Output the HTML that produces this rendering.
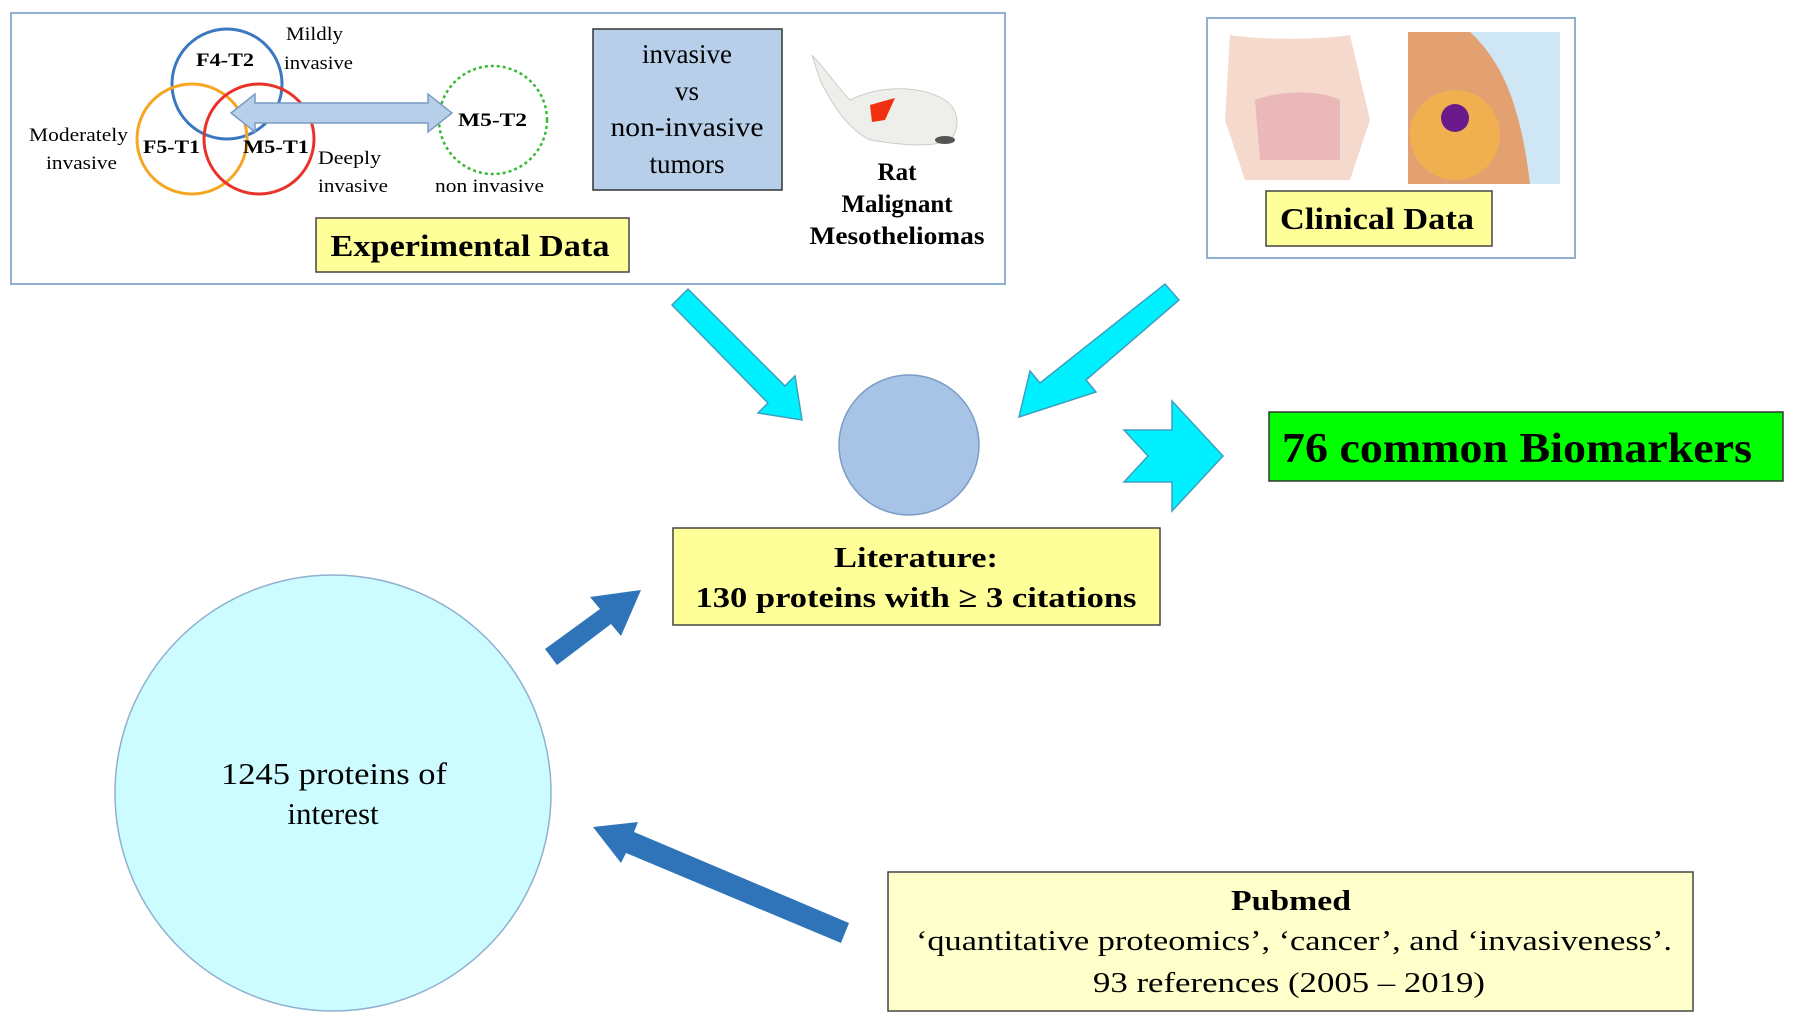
<!DOCTYPE html>
<html><head><meta charset="utf-8"><style>
html,body{margin:0;padding:0;background:#fff}
svg{display:block}
text{font-family:"Liberation Serif",serif}
</style></head><body>
<svg width="1795" height="1023" viewBox="0 0 1795 1023">
<rect x="11" y="13" width="994" height="271" fill="#fff" stroke="#8fb0d0" stroke-width="2"/>
<circle cx="227" cy="84" r="55" fill="none" stroke="#3a78c0" stroke-width="3"/>
<circle cx="192" cy="139" r="55" fill="none" stroke="#f5a623" stroke-width="3"/>
<circle cx="259" cy="139" r="55" fill="none" stroke="#e8322a" stroke-width="3"/>
<circle cx="493" cy="120" r="54" fill="none" stroke="#33bb33" stroke-width="2.5" stroke-dasharray="3,3"/>
<polygon points="231,113 255,94 255,103 428,103 428,94 452,113 428,132 428,123 255,123 255,132" fill="#b7cfe8" stroke="#7a9cc4" stroke-width="1.5"/>
<g font-size="19">
<text x="286" y="40" textLength="57" lengthAdjust="spacingAndGlyphs">Mildly</text>
<text x="284" y="69" textLength="69" lengthAdjust="spacingAndGlyphs">invasive</text>
<text x="29" y="141" textLength="99" lengthAdjust="spacingAndGlyphs">Moderately</text>
<text x="46" y="169" textLength="71" lengthAdjust="spacingAndGlyphs">invasive</text>
<text x="318" y="164" textLength="63" lengthAdjust="spacingAndGlyphs">Deeply</text>
<text x="318" y="192" textLength="70" lengthAdjust="spacingAndGlyphs">invasive</text>
<text x="435" y="192" textLength="109" lengthAdjust="spacingAndGlyphs">non invasive</text>
</g>
<g font-size="19" font-weight="bold">
<text x="196" y="66" textLength="58" lengthAdjust="spacingAndGlyphs">F4-T2</text>
<text x="143" y="153" textLength="57" lengthAdjust="spacingAndGlyphs">F5-T1</text>
<text x="243" y="153" textLength="66" lengthAdjust="spacingAndGlyphs">M5-T1</text>
<text x="458" y="126" textLength="69" lengthAdjust="spacingAndGlyphs">M5-T2</text>
</g>
<rect x="593" y="29" width="189" height="161" fill="#b7cfe8" stroke="#333" stroke-width="1.5"/>
<g font-size="27" text-anchor="middle">
<text x="687" y="63">invasive</text>
<text x="687" y="100">vs</text>
<text x="687" y="136" textLength="153" lengthAdjust="spacingAndGlyphs">non-invasive</text>
<text x="687" y="173">tumors</text>
</g>
<g>
<path d="M812,55 C830,75 840,90 850,100 C880,85 920,85 945,100 C960,110 960,130 950,140 C930,148 900,145 870,140 C850,130 835,110 820,80 Z" fill="#eeeeea" stroke="#ccc"/>
<path d="M870,105 L895,98 L885,120 L872,122 Z" fill="#f03010"/>
<ellipse cx="945" cy="140" rx="10" ry="4" fill="#555"/>
</g>
<g font-size="25" font-weight="bold" text-anchor="middle">
<text x="897" y="180">Rat</text>
<text x="897" y="212">Malignant</text>
<text x="897" y="244" textLength="175" lengthAdjust="spacingAndGlyphs">Mesotheliomas</text>
</g>
<rect x="316" y="218" width="313" height="54" fill="#ffff99" stroke="#444" stroke-width="1.5"/>
<text x="470" y="256" font-size="31" font-weight="bold" text-anchor="middle" textLength="279" lengthAdjust="spacingAndGlyphs">Experimental Data</text>
<rect x="1207" y="18" width="368" height="240" fill="#fff" stroke="#8fb0d0" stroke-width="2"/>
<path d="M1230,35 C1260,40 1320,40 1350,35 L1370,120 L1350,180 L1245,180 L1225,120 Z" fill="#f5d9cc"/>
<path d="M1255,100 C1280,90 1320,90 1340,100 L1340,160 L1260,160 Z" fill="#eab8b8"/>
<rect x="1408" y="32" width="152" height="152" fill="#cfe6f5"/>
<path d="M1408,32 L1470,32 C1500,60 1520,100 1530,184 L1408,184 Z" fill="#e3a070"/>
<ellipse cx="1455" cy="135" rx="45" ry="45" fill="#f0b050"/>
<circle cx="1455" cy="118" r="14" fill="#6a1a8a"/>
<rect x="1266" y="191" width="226" height="55" fill="#ffff99" stroke="#444" stroke-width="1.5"/>
<text x="1377" y="229" font-size="31" font-weight="bold" text-anchor="middle" textLength="194" lengthAdjust="spacingAndGlyphs">Clinical Data</text>
<g fill="#00f0ff" stroke="#3aa0c0" stroke-width="1.5">
<polygon points="672,305 688,289 785,386 795,376 802,420 758,413 768,403"/>
<polygon points="1165,284 1179,300 1086,380 1096,392 1019,417 1030,371 1040,383"/>
<polygon points="1124,430 1172,430 1172,401 1223,456 1172,511 1172,482 1124,482 1148,456"/>
</g>
<circle cx="909" cy="445" r="70" fill="#a7c3e6" stroke="#7a9cc4" stroke-width="1.5"/>
<rect x="1269" y="412" width="514" height="69" fill="#00ff00" stroke="#333" stroke-width="1.5"/>
<text x="1517" y="462" font-size="42" font-weight="bold" text-anchor="middle" textLength="470" lengthAdjust="spacingAndGlyphs">76 common Biomarkers</text>
<rect x="673" y="528" width="487" height="97" fill="#ffff99" stroke="#444" stroke-width="1.5"/>
<g font-size="29" font-weight="bold" text-anchor="middle">
<text x="916" y="567" textLength="164" lengthAdjust="spacingAndGlyphs">Literature:</text>
<text x="916" y="607" textLength="441" lengthAdjust="spacingAndGlyphs">130 proteins with ≥ 3 citations</text>
</g>
<circle cx="333" cy="793" r="218" fill="#ccfcff" stroke="#8fb0d0" stroke-width="1.5"/>
<g font-size="31" text-anchor="middle">
<text x="334" y="784" textLength="226" lengthAdjust="spacingAndGlyphs">1245 proteins of</text>
<text x="333" y="824">interest</text>
</g>
<g fill="#2f74b8">
<polygon points="545,649 600,609 590,597 641,590 621,636 611,624 557,665"/>
<polygon points="849,923 634,832 638,822 593,827 621,863 626,853 841,943"/>
</g>
<rect x="888" y="872" width="805" height="139" fill="#ffffcc" stroke="#444" stroke-width="1.5"/>
<g font-size="29" text-anchor="middle">
<text x="1291" y="910" font-weight="bold" textLength="120" lengthAdjust="spacingAndGlyphs">Pubmed</text>
<text x="1294" y="950" textLength="756" lengthAdjust="spacingAndGlyphs">‘quantitative proteomics’, ‘cancer’, and ‘invasiveness’.</text>
<text x="1289" y="992" textLength="392" lengthAdjust="spacingAndGlyphs">93 references (2005 – 2019)</text>
</g>
</svg>
</body></html>
